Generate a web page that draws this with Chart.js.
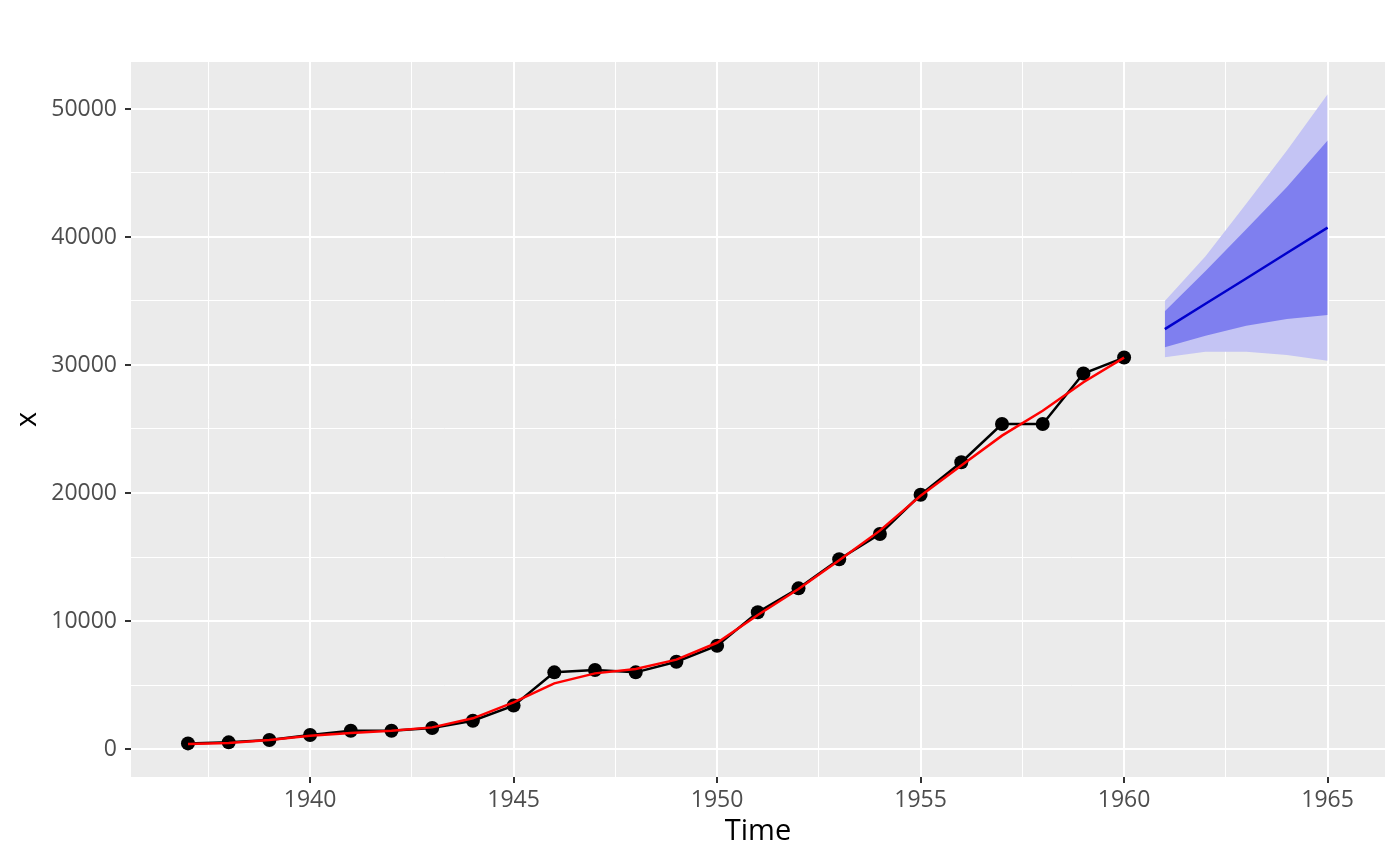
<!DOCTYPE html>
<html>
<head>
<meta charset="utf-8">
<script src="https://cdn.jsdelivr.net/npm/chart.js@4"></script>
<style>
html,body{margin:0;padding:0;background:#fff;}
#c{display:block;}
</style>
</head>
<body>
<canvas id="c" width="1400" height="866"></canvas>
<script>
const years = [1937,1938,1939,1940,1941,1942,1943,1944,1945,1946,1947,1948,1949,1950,1951,1952,1953,1954,1955,1956,1957,1958,1959,1960];
const actual = [440,520,700,1090,1430,1430,1640,2210,3390,5990,6170,5990,6820,8070,10680,12550,14820,16800,19860,22400,25390,25390,29330,30580];
const fitted = [390,470,700,1040,1250,1430,1690,2400,3650,5130,5910,6250,6980,8300,10470,12500,14750,17060,19790,22140,24480,26430,28650,30580];
const fYears = [1961,1962,1963,1964,1965];
const fMean = [32800,34780,36760,38750,40730];
const lo80 = [31380,32290,33070,33590,33900];
const hi80 = [34190,37350,40600,43900,47530];
const lo95 = [30600,31040,31040,30780,30340];
const hi95 = [35000,38500,42600,46750,51150];
const xTicks = [1937.5,1940,1942.5,1945,1947.5,1950,1952.5,1955,1957.5,1960,1962.5,1965];
const yTicks = [0,5000,10000,15000,20000,25000,30000,35000,40000,45000,50000];

const pts = (xs, ys) => xs.map((x,i)=>({x:x,y:ys[i]}));
const FONT = "'Open Sans', 'DejaVu Sans', sans-serif";

const panelBg = {
  id:'panelBg',
  beforeDraw(chart){
    const {ctx, chartArea:a} = chart;
    ctx.save();
    ctx.fillStyle = '#EBEBEB';
    ctx.fillRect(a.left, a.top, a.right-a.left, a.bottom-a.top);
    ctx.restore();
  }
};

new Chart(document.getElementById('c'), {
  type:'line',
  data:{
    datasets:[
      {data:pts(fYears,hi95), fill:'+1', backgroundColor:'#C4C4F4', borderWidth:0, pointRadius:0, order:5},
      {data:pts(fYears,lo95), fill:false, borderWidth:0, pointRadius:0, order:6},
      {data:pts(fYears,hi80), fill:'+1', backgroundColor:'#7F7FEF', borderWidth:0, pointRadius:0, order:3},
      {data:pts(fYears,lo80), fill:false, borderWidth:0, pointRadius:0, order:4},
      {data:pts(fYears,fMean), borderColor:'#0000CC', borderWidth:2.5, pointRadius:0, fill:false, order:2},
      {data:pts(years,actual), borderColor:'#000000', borderWidth:2.5, pointRadius:7, pointBorderWidth:0, pointBackgroundColor:'#000000', fill:false, order:1},
      {data:pts(years,fitted), borderColor:'#FF0000', borderWidth:2.5, pointRadius:0, fill:false, order:0}
    ]
  },
  options:{
    responsive:false,
    animation:false,
    devicePixelRatio:1,
    layout:{padding:{top:62,right:15,left:0,bottom:0}},
    plugins:{legend:{display:false}, tooltip:{enabled:false}},
    elements:{line:{tension:0}},
    scales:{
      x:{
        type:'linear',
        min:1935.6, max:1966.41,
        afterBuildTicks(s){ s.ticks = xTicks.map(v=>({value:v})); },
        afterFit(s){ s.height = 89; },
        border:{display:false},
        grid:{
          color:'#FFFFFF',
          lineWidth:c=> (c.tick && c.tick.value%5===0) ? 2 : 1,
          tickColor:c=> (c.tick && c.tick.value%5===0) ? '#333333' : 'rgba(0,0,0,0)',
          tickWidth:2,
          tickLength:6
        },
        ticks:{
          autoSkip:false, maxRotation:0,
          color:'#4D4D4D',
          font:{family:FONT, size:23},
          padding:4,
          callback:v=> (v%5===0) ? String(v) : ''
        },
        title:{display:true, text:'Time', color:'#000000', font:{family:FONT, size:29}, padding:{top:0,bottom:17}}
      },
      y:{
        type:'linear',
        min:-2186, max:53670,
        afterBuildTicks(s){ s.ticks = yTicks.map(v=>({value:v})); },
        afterFit(s){ s.width = 131; },
        border:{display:false},
        grid:{
          color:'#FFFFFF',
          lineWidth:c=> (c.tick && c.tick.value%10000===0) ? 2 : 1,
          tickColor:c=> (c.tick && c.tick.value%10000===0) ? '#333333' : 'rgba(0,0,0,0)',
          tickWidth:2,
          tickLength:6
        },
        ticks:{
          autoSkip:false,
          color:'#4D4D4D',
          font:{family:FONT, size:23},
          padding:8,
          callback:v=> (v%10000===0) ? String(v) : ''
        },
        title:{display:true, text:'x', color:'#000000', font:{family:FONT, size:29}, padding:{top:10,bottom:0}}
      }
    }
  },
  plugins:[panelBg]
});
</script>
</body>
</html>
